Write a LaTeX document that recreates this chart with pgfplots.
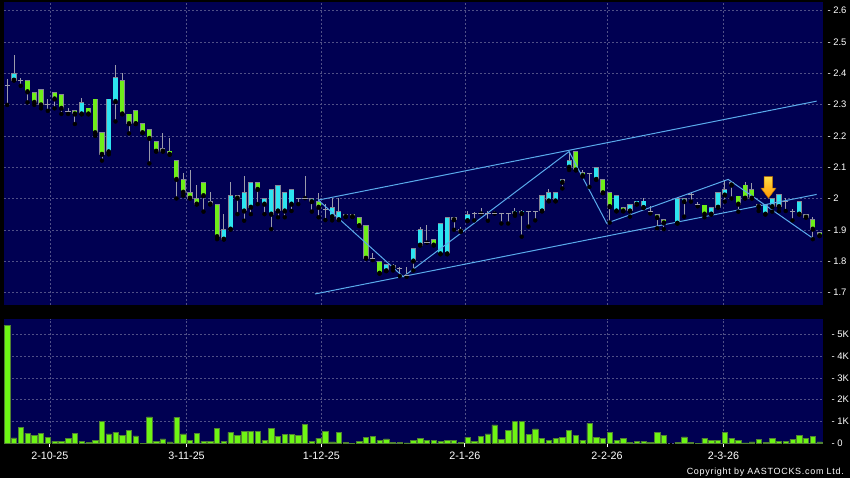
\documentclass[border=0pt]{standalone}
\usepackage{pgfplots}
\pgfplotsset{compat=1.18}
\usepackage{pgfplotstable}
\usepackage{fontspec}
\setmainfont{Liberation Sans}
\newfontfamily\cfont[LetterSpace=8]{Liberation Sans}
\definecolor{panel}{RGB}{0,0,82}
\definecolor{upc}{RGB}{45,228,240}
\definecolor{dnc}{RGB}{110,238,25}
\definecolor{edgec}{RGB}{135,135,150}
\definecolor{wickc}{RGB}{155,155,170}
\definecolor{gridc}{RGB}{80,80,135}
\definecolor{trendc}{RGB}{90,170,235}
\definecolor{volc}{RGB}{110,245,20}
\definecolor{voledge}{RGB}{80,130,50}
\definecolor{arrtop}{RGB}{255,220,70}
\definecolor{arrbot}{RGB}{255,150,0}
\definecolor{arredge}{RGB}{190,110,0}

% t: 1 = up (cyan), -1 = down (green), 0 = doji
\pgfplotstableread{
i o h l c t v
0 2.360 2.381 2.299 2.360 0 5.40
1 2.378 2.457 2.378 2.399 1 0.25
2 2.378 2.386 2.360 2.378 0 0.72
3 2.378 2.378 2.307 2.341 -1 0.46
4 2.339 2.339 2.299 2.307 -1 0.37
5 2.349 2.349 2.288 2.299 -1 0.46
6 2.299 2.318 2.280 2.299 0 0.28
7 2.339 2.339 2.288 2.318 -1 0.09
8 2.331 2.331 2.270 2.288 -1 0.09
9 2.278 2.290 2.270 2.278 0 0.23
10 2.280 2.280 2.238 2.270 -1 0.46
11 2.270 2.320 2.270 2.307 1 0.10
12 2.289 2.289 2.270 2.270 -1 0.03
13 2.318 2.318 2.200 2.210 -1 0.14
14 2.210 2.210 2.121 2.141 -1 0.99
15 2.149 2.318 2.141 2.318 1 0.43
16 2.310 2.428 2.246 2.387 1 0.50
17 2.378 2.400 2.270 2.270 -1 0.38
18 2.270 2.270 2.208 2.239 -1 0.60
19 2.280 2.280 2.239 2.239 -1 0.34
20 2.239 2.239 2.210 2.210 -1 0.01
21 2.220 2.220 2.112 2.192 -1 1.21
22 2.183 2.183 2.151 2.151 -1 0.09
23 2.160 2.210 2.151 2.151 -1 0.20
24 2.152 2.192 2.141 2.141 -1 0.06
25 2.122 2.122 2.000 2.061 -1 1.19
26 2.061 2.080 2.009 2.020 -1 0.43
27 2.020 2.091 2.001 2.001 -1 0.12
28 2.001 2.043 1.982 1.982 -1 0.46
29 2.052 2.052 1.958 2.009 -1 0.09
30 1.982 2.020 1.982 1.990 1 0.08
31 1.982 1.982 1.870 1.878 -1 0.69
32 1.870 1.950 1.870 1.902 1 0.08
33 1.902 2.052 1.902 2.009 1 0.50
34 2.009 2.009 1.950 2.001 -1 0.37
35 1.960 2.072 1.929 2.020 1 0.55
36 1.972 2.052 1.950 2.052 1 0.55
37 2.052 2.052 1.982 2.029 -1 0.55
38 1.982 2.001 1.950 2.001 1 0.12
39 1.950 2.029 1.902 2.029 1 0.69
40 1.960 2.041 1.940 2.041 1 0.31
41 1.960 2.020 1.940 2.020 1 0.41
42 1.982 2.029 1.960 2.029 1 0.40
43 2.001 2.001 1.982 2.001 0 0.35
44 2.001 2.072 2.001 2.001 0 0.87
45 1.990 2.001 1.958 2.001 1 0.09
46 1.990 2.017 1.940 1.972 -1 0.24
47 1.965 1.982 1.931 1.965 0 0.55
48 1.942 2.000 1.930 1.971 1 0.06
49 1.932 2.000 1.932 1.958 1 0.50
50 1.950 1.950 1.942 1.942 -1 0.03
51 1.950 1.950 1.942 1.942 -1 0.00
52 1.939 1.939 1.913 1.913 -1 0.09
53 1.913 1.913 1.809 1.809 -1 0.28
54 1.809 1.825 1.803 1.809 0 0.32
55 1.798 1.798 1.761 1.761 -1 0.12
56 1.769 1.790 1.769 1.790 1 0.20
57 1.780 1.790 1.770 1.787 1 0.05
58 1.775 1.782 1.752 1.775 0 0.05
59 1.755 1.782 1.750 1.755 0 0.02
60 1.800 1.841 1.770 1.841 1 0.12
61 1.851 1.910 1.851 1.902 1 0.24
62 1.859 1.914 1.859 1.859 0 0.12
63 1.869 1.869 1.851 1.851 -1 0.15
64 1.823 1.921 1.823 1.921 1 0.09
65 1.823 1.940 1.823 1.939 1 0.15
66 1.939 1.939 1.900 1.932 -1 0.15
67 1.902 1.910 1.895 1.895 -1 0.05
68 1.929 1.960 1.929 1.950 1 0.28
69 1.952 1.957 1.930 1.952 0 0.09
70 1.952 1.969 1.952 1.952 0 0.31
71 1.952 1.960 1.929 1.952 0 0.43
72 1.952 1.960 1.952 1.952 0 0.84
73 1.952 1.952 1.920 1.952 0 0.18
74 1.952 1.952 1.920 1.952 0 0.58
75 1.952 1.970 1.945 1.960 1 1.01
76 1.952 1.962 1.878 1.960 1 1.01
77 1.960 1.960 1.910 1.960 0 0.40
78 1.960 1.960 1.930 1.960 0 0.66
79 1.960 2.009 1.960 2.009 1 0.21
80 1.992 2.030 1.992 2.018 1 0.15
81 1.992 2.018 1.992 2.018 1 0.21
82 2.052 2.061 2.032 2.061 1 0.26
83 2.100 2.150 2.091 2.121 1 0.60
84 2.150 2.150 2.091 2.091 -1 0.37
85 2.082 2.091 2.070 2.073 -1 0.15
86 2.080 2.080 2.037 2.080 0 0.92
87 2.061 2.100 2.061 2.100 1 0.28
88 2.061 2.061 2.018 2.018 -1 0.24
89 2.020 2.020 1.923 1.974 -1 0.50
90 1.960 2.009 1.960 2.009 1 0.12
91 1.970 1.970 1.960 1.960 -1 0.21
92 1.960 1.982 1.942 1.982 1 0.05
93 1.982 1.992 1.982 1.992 1 0.10
94 1.971 2.000 1.971 1.992 1 0.09
95 1.960 1.975 1.952 1.960 0 0.05
96 1.950 1.950 1.905 1.939 -1 0.50
97 1.933 1.933 1.902 1.922 -1 0.35
99 1.921 2.001 1.921 2.001 1 0.03
100 1.990 2.001 1.942 2.001 1 0.29
101 2.013 2.020 1.990 2.013 0 0.05
102 1.982 1.990 1.975 1.982 0 0.00
103 1.979 1.979 1.940 1.950 -1 0.24
104 1.950 1.972 1.950 1.972 1 0.15
105 1.972 2.020 1.972 2.020 1 0.15
106 2.011 2.060 1.990 2.030 1 0.50
107 2.052 2.052 2.000 2.043 -1 0.24
108 2.008 2.008 1.958 1.982 -1 0.15
109 2.043 2.052 2.001 2.001 -1 0.02
110 2.029 2.050 2.001 2.001 -1 0.06
111 1.974 1.982 1.960 1.982 1 0.18
112 1.950 1.982 1.950 1.982 1 0.03
113 1.974 2.001 1.958 2.001 1 0.21
114 1.974 2.012 1.960 2.012 1 0.09
115 1.990 2.000 1.960 1.990 0 0.09
116 1.960 1.965 1.930 1.960 0 0.18
117 1.950 1.990 1.950 1.990 1 0.37
118 1.950 1.950 1.940 1.940 -1 0.24
119 1.933 1.940 1.870 1.902 -1 0.31
120 1.892 1.892 1.881 1.881 -1 0.06
}\candles

\begin{document}
\begin{tikzpicture}
\path[use as bounding box, fill=black] (0,0) rectangle (850bp,478bp);
\pgfplotsset{
  base/.style={
    scale only axis, width=819.3bp,
    xmin=-0.47, xmax=120.55,
    axis background/.style={fill=panel},
    axis line style={draw=none},
    xtick={6.3,26.5,46.4,67.6,88.6,105.8},
    grid=major,
    major grid style={draw=gridc, dash pattern=on 2bp off 2bp, line width=0.5bp},
    ytick pos=right, yticklabel pos=right,
    ytick style={draw=none},
    yticklabel style={font=\fontsize{9.5}{11}\selectfont, text=white, anchor=west, inner sep=0pt, xshift=4bp},
    /pgf/number format/assume math mode=true,
  },
  body/.style n args={3}{only marks, mark=none,
    restrict expr to domain={\thisrow{t}}{#1:#1},
    error bars/.cd, y dir=plus, y explicit, error mark=none,
    error bar style={draw=#2, line width=#3}},
}
\begin{axis}[base, at={(4bp,173bp)}, anchor=south west, height=303bp,
  ymin=1.6597, ymax=2.6278,
  ytick={1.7,1.8,1.9,2.0,2.1,2.2,2.3,2.4,2.5,2.6},
  yticklabel={- \pgfmathprintnumber{\tick}},
  xticklabels={}, xtick style={draw=none}]
% wicks
\addplot[only marks, mark=none, error bars/.cd, y dir=plus, y explicit, error mark=none,
  error bar style={draw=wickc, line width=0.9bp}]
  table[x=i, y=l, y error expr=\thisrow{h}-\thisrow{l}] {\candles};
% up bodies
\addplot[body={1}{edgec}{5.1bp}]
  table[x=i, y expr=\thisrow{o}-0.0013, y error expr=\thisrow{c}-\thisrow{o}+0.0026] {\candles};
\addplot[body={1}{upc}{4.1bp}]
  table[x=i, y expr=\thisrow{o}+0.0013, y error expr=\thisrow{c}-\thisrow{o}-0.0026] {\candles};
% down bodies
\addplot[body={-1}{edgec}{5.1bp}]
  table[x=i, y expr=\thisrow{c}-0.0013, y error expr=\thisrow{o}-\thisrow{c}+0.0026] {\candles};
\addplot[body={-1}{dnc}{4.1bp}]
  table[x=i, y expr=\thisrow{c}+0.0013, y error expr=\thisrow{o}-\thisrow{c}-0.0026] {\candles};
% doji
\addplot[only marks, mark=-, mark size=2.65bp, mark options={draw=wickc, line width=0.9bp},
  restrict expr to domain={\thisrow{t}}{0:0}]
  table[x=i, y=o] {\candles};
% trend lines
\addplot[trendc, line width=1bp] coordinates {(45.95,1.995) (119.57,2.311)};
\addplot[trendc, line width=1bp] coordinates {(45.47,1.695) (119.57,2.013)};
\addplot[trendc, line width=1bp] coordinates {(45.95,1.995) (58.5,1.750) (83.0,2.150) (88.55,1.921) (106.5,2.061) (119.0,1.873)};
% arrow
\addplot[draw=arredge, line width=0.5bp, top color=arrtop, bottom color=arrbot]
  coordinates {(111.8,2.070) (113.07,2.070) (113.07,2.033) (113.56,2.033) (112.45,2.001) (111.35,2.033) (111.8,2.033)} --cycle;
\end{axis}
\begin{axis}[base, at={(4bp,34.7bp)}, anchor=south west, height=124.3bp,
  ymin=0, ymax=5.70,
  ytick={0,1,2,3,4,5},
  yticklabels={- 0,- 1K,- 2K,- 3K,- 4K,- 5K},
  xticklabels={2-10-25,3-11-25,1-12-25,2-1-26,2-2-26,2-3-26},
  xtick pos=bottom, tick align=outside, major tick length=4bp,
  xtick style={draw=white, line width=0.8bp},
  xticklabel style={font=\fontsize{10.8}{12}\selectfont, text=white, inner sep=0pt, yshift=-4bp}]
\addplot[ybar, bar width=5.3bp, fill=volc, draw=voledge, line width=0.5bp] table[x=i, y=v] {\candles};
\end{axis}
\node[anchor=base east, text=white, inner sep=0pt, font=\cfont\fontsize{9}{10}\selectfont] at (844bp,4bp) {Copyright by AASTOCKS.com Ltd.};
\end{tikzpicture}
\end{document}
